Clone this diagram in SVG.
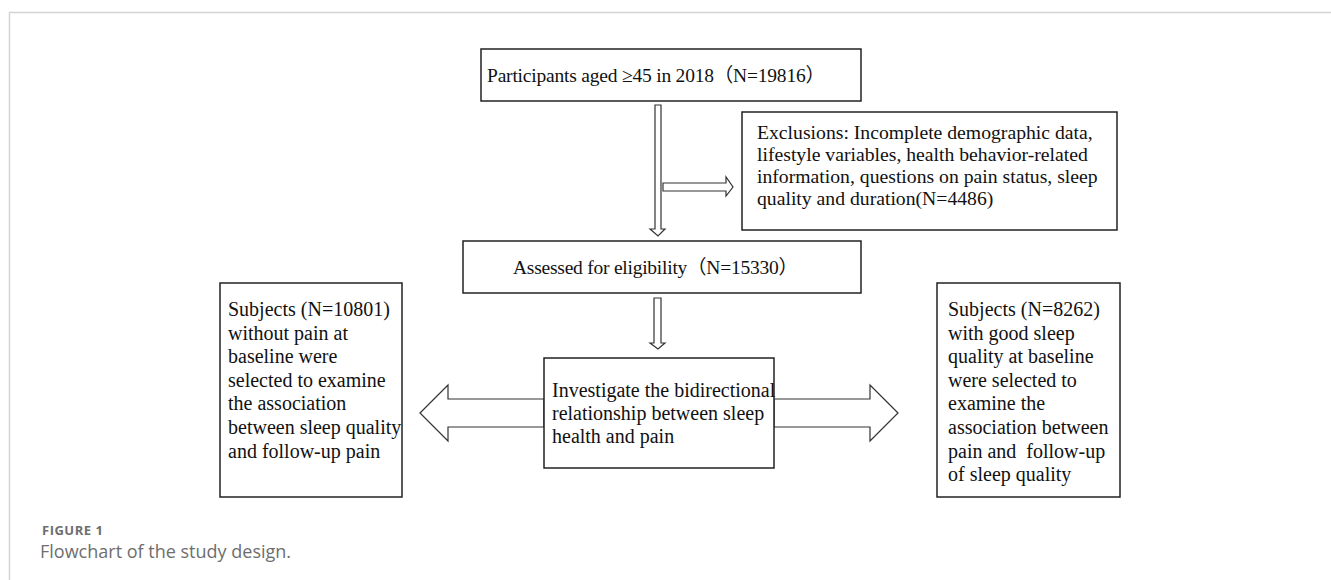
<svg xmlns="http://www.w3.org/2000/svg" width="1331" height="580" viewBox="0 0 1331 580">
<style>
.box{fill:#fff;stroke:#222;stroke-width:1.5}
.arr{fill:#fff;stroke:#333;stroke-width:1.2}
.t{font-family:"Liberation Serif","Times New Roman","Noto Sans CJK SC",serif;fill:#111}
.frame{stroke:#d4d4d4;stroke-width:1.5;fill:none}
.cap1{font-family:"Open Sans","Noto Sans",sans-serif;font-weight:700;font-size:13px;letter-spacing:0.5px;fill:#6e6e6e}
.cap2{font-family:"Open Sans","Noto Sans",sans-serif;font-size:18px;fill:#6e6e6e}
</style>
<rect width="1331" height="580" fill="#fff"/>
<path class="frame" d="M9.5 580 V12.5 H1331"/>
<g id="connectors">
<path class="arr" d="M655 105 H661 V229 H665 L658 236 L650 229 H655 Z"/>
<path class="arr" d="M663 183 H726 V177 L733 187 L726 196 V191 H663 Z"/>
<path class="arr" d="M654 298 H661 V343 H665 L658 349 L650 343 H654 Z"/>
<path class="arr" d="M420 413 L448 385 V399 H544 V427 H448 V441 Z"/>
<path class="arr" d="M898 413 L870 385 V399 H774 V427 H870 V441 Z"/>
</g>
<g id="n1">
<rect class="box" x="481" y="49" width="380" height="52"/>
<text class="t" x="487" y="82" font-size="19.5" textLength="338" lengthAdjust="spacing">Participants aged ≥45 in 2018（N=19816）</text>
</g>
<g id="n2">
<rect class="box" x="742" y="112" width="375" height="118"/>
<text class="t" font-size="19.7"><tspan x="757" y="139">Exclusions: Incomplete demographic data,</tspan><tspan x="757" y="161">lifestyle variables, health behavior-related</tspan><tspan x="757" y="183">information, questions on pain status, sleep</tspan><tspan x="757" y="204.5">quality and duration(N=4486)</tspan></text>
</g>
<g id="n3">
<rect class="box" x="463" y="241" width="398" height="52"/>
<text class="t" x="513" y="274" font-size="19.5" textLength="285" lengthAdjust="spacing">Assessed for eligibility（N=15330）</text>
</g>
<g id="n4">
<rect class="box" x="544" y="358" width="230" height="110"/>
<text class="t" font-size="20"><tspan x="552" y="397">Investigate the bidirectional</tspan><tspan x="552" y="420">relationship between sleep</tspan><tspan x="552" y="443">health and pain</tspan></text>
</g>
<g id="n5">
<rect class="box" x="220" y="283" width="182" height="214"/>
<text class="t" font-size="20"><tspan x="228" y="316">Subjects (N=10801)</tspan><tspan x="228" y="339.6">without pain at</tspan><tspan x="228" y="363.2">baseline were</tspan><tspan x="228" y="386.8">selected to examine</tspan><tspan x="228" y="410.4">the association</tspan><tspan x="228" y="434">between sleep quality</tspan><tspan x="228" y="457.6">and follow-up pain</tspan></text>
</g>
<g id="n6">
<rect class="box" x="937" y="283" width="183" height="214"/>
<text class="t" font-size="20"><tspan x="948" y="316">Subjects (N=8262)</tspan><tspan x="948" y="339.6">with good sleep</tspan><tspan x="948" y="363.2">quality at baseline</tspan><tspan x="948" y="386.8">were selected to</tspan><tspan x="948" y="410.4">examine the</tspan><tspan x="948" y="434">association between</tspan><tspan x="948" y="457.6">pain and&#160; follow-up</tspan><tspan x="948" y="481.2">of sleep quality</tspan></text>
</g>
<g id="caption">
<text class="cap1" x="42" y="535">FIGURE 1</text>
<text class="cap2" x="40" y="558">Flowchart of the study design.</text>
</g>
</svg>
